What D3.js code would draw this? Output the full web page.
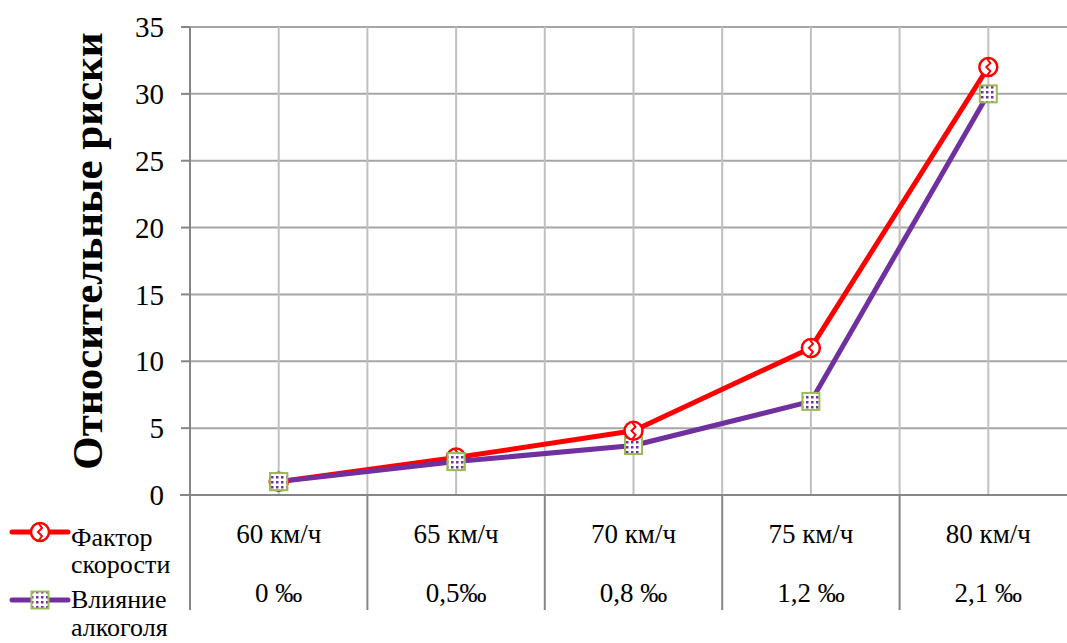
<!DOCTYPE html>
<html><head><meta charset="utf-8">
<script src="https://cdn.jsdelivr.net/npm/d3@7"></script>
<style>body{margin:0;background:#fff;}svg{display:block;}</style>
</head><body>
<svg id="c" width="1067" height="643"></svg>
<script>
const speeds = ["60 км/ч","65 км/ч","70 км/ч","75 км/ч","80 км/ч"];
const alcohol = ["0 ‰","0,5‰","0,8 ‰","1,2 ‰","2,1 ‰"];
const speedRisk = [1, 2.8, 4.8, 11, 32];
const alcoholRisk = [1, 2.5, 3.7, 7, 30];
const yTicks = [0,5,10,15,20,25,30,35];
const seriesNames = [["Фактор","скорости"],["Влияние","алкоголя"]];

(function(){
const FF = "Liberation Serif";
const svg = d3.select("#c");
const pL = 190, pR = 1077, pT = 27, pB = 495;
const x = d3.scaleBand().domain(speeds).range([pL, pR]).padding(0);
const y = d3.scaleLinear().domain([0,35]).range([pB, pT]);
const cx = d => x(d) + x.bandwidth()/2;

const defs = svg.append("defs");
const pat = defs.append("pattern").attr("id","dots").attr("patternUnits","userSpaceOnUse")
  .attr("width",5).attr("height",5);
pat.append("rect").attr("width",5).attr("height",5).attr("fill","#fff");
pat.append("rect").attr("x",1).attr("y",1).attr("width",2.5).attr("height",2.5).attr("fill","#7030a0");

svg.append("g").selectAll("line").data(yTicks.filter(d=>d>0)).join("line")
  .attr("x1",pL).attr("x2",1067).attr("y1",d=>y(d)).attr("y2",d=>y(d))
  .attr("stroke","#a6a6a6").attr("stroke-width",2);
const vlines = [];
speeds.forEach(s=>{ vlines.push(cx(s)); if (x(s)>pL) vlines.push(x(s)); });
svg.append("g").selectAll("line").data(vlines).join("line")
  .attr("x1",d=>d).attr("x2",d=>d).attr("y1",pT).attr("y2",pB)
  .attr("stroke","#c0c0c0").attr("stroke-width",2);

svg.append("line").attr("x1",pL).attr("x2",pL).attr("y1",pT).attr("y2",pB).attr("stroke","#868686").attr("stroke-width",2);
svg.append("line").attr("x1",pL-10).attr("x2",1067).attr("y1",pB).attr("y2",pB).attr("stroke","#868686").attr("stroke-width",2);
svg.append("g").selectAll("line").data(yTicks).join("line")
  .attr("x1",pL-9).attr("x2",pL).attr("y1",d=>y(d)).attr("y2",d=>y(d)).attr("stroke","#868686").attr("stroke-width",2);
svg.append("g").selectAll("text").data(yTicks).join("text")
  .style("font-family",FF)
  .attr("x",164).attr("y",d=>y(d)).attr("dy","0.35em").attr("text-anchor","end")
  .attr("font-size",29).text(d=>d);

svg.append("g").selectAll("line").data(speeds.map(s=>x(s))).join("line")
  .attr("x1",d=>d).attr("x2",d=>d).attr("y1",pB).attr("y2",610)
  .attr("stroke","#868686").attr("stroke-width",2);
svg.append("g").selectAll("text").data(speeds).join("text").style("font-family",FF)
  .attr("x",d=>cx(d)).attr("y",543).attr("text-anchor","middle").attr("font-size",27).text(d=>d);
svg.append("g").selectAll("text").data(alcohol).join("text").style("font-family",FF)
  .attr("x",(d,i)=>cx(speeds[i])).attr("y",602).attr("text-anchor","middle").attr("font-size",27).text(d=>d);

svg.append("text").style("font-family",FF).attr("transform","translate(102,251) rotate(-90)").attr("text-anchor","middle")
  .attr("font-size",43).attr("font-weight","bold").text("Относительные риски");

const line = d3.line().x((d,i)=>cx(speeds[i])).y(d=>y(d));
svg.append("path").datum(speedRisk).attr("d",line).attr("fill","none").attr("stroke","#ff0000").attr("stroke-width",5).attr("stroke-linejoin","round");
svg.append("path").datum(alcoholRisk).attr("d",line).attr("fill","none").attr("stroke","#7030a0").attr("stroke-width",5).attr("stroke-linejoin","round");

function circleMarker(g, px, py){
  g.append("circle").attr("cx",px).attr("cy",py).attr("r",9).attr("fill","#fff").attr("stroke","#ff0000").attr("stroke-width",2.5);
  g.append("path").attr("d",`M${px-1},${py-8} L${px+2},${py-4} L${px-2},${py} L${px+2},${py+4} L${px-1},${py+8}`)
    .attr("fill","none").attr("stroke","#ff0000").attr("stroke-width",2);
}
function squareMarker(g, px, py){
  g.append("rect").attr("x",px-8.5).attr("y",py-8.5).attr("width",17).attr("height",17)
    .attr("fill","url(#dots)").attr("stroke","#9bbb59").attr("stroke-width",2);
}
const mg = svg.append("g");
alcoholRisk.forEach((v,i)=>squareMarker(mg, cx(speeds[i]), y(v)));
const mr = svg.append("g");
speedRisk.forEach((v,i)=>circleMarker(mr, cx(speeds[i]), y(v)));
squareMarker(svg.append("g"), cx(speeds[0]), y(alcoholRisk[0]));
squareMarker(svg.append("g"), cx(speeds[1]), y(alcoholRisk[1]));

const lg = svg.append("g");
lg.append("line").attr("x1",12).attr("x2",68).attr("y1",532).attr("y2",532).attr("stroke","#ff0000").attr("stroke-width",5).attr("stroke-linecap","round");
circleMarker(lg, 40, 532);
lg.append("line").attr("x1",12).attr("x2",68).attr("y1",600).attr("y2",600).attr("stroke","#7030a0").attr("stroke-width",5).attr("stroke-linecap","round");
squareMarker(lg, 40, 600);
const ly = [[546,573],[608,636]];
seriesNames.forEach((nm,k)=>{
  nm.forEach((t,j)=>{
    lg.append("text").style("font-family",FF).attr("x",71).attr("y",ly[k][j]).attr("font-size",26).text(t);
  });
});
})();
</script>
</body></html>
